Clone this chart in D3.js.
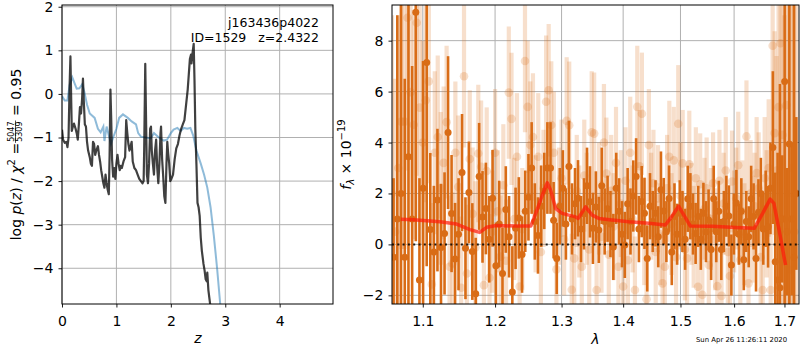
<!DOCTYPE html>
<html>
<head>
<meta charset="utf-8">
<script src="https://cdn.jsdelivr.net/npm/d3@7"></script>
<style>
  body { margin: 0; background: #fff; }
  svg { display: block; }
  text { font-family: 'DejaVu Sans', sans-serif; }
</style>
</head>
<body>
<div id="chart"></div>
<script>
// ── Data: left panel, log p(z) ─────────────────────────────────
const zBlack = [0.00,0.02,0.05,0.08,0.10,0.12,0.14,0.155,0.17,0.18,0.20,0.22,0.25,0.27,0.29,0.31,0.33,0.35,0.37,0.385,
  0.40,0.42,0.44,0.46,0.48,0.51,0.53,0.55,0.57,0.59,0.61,0.63,0.66,0.68,0.70,0.72,0.74,0.76,0.78,0.80,
  0.82,0.84,0.86,0.875,0.89,0.905,0.92,0.94,0.96,0.98,1.00,1.02,1.04,1.06,1.08,1.10,1.13,1.16,1.18,1.20,
  1.22,1.24,1.26,1.28,1.30,1.33,1.36,1.39,1.42,1.45,1.48,1.50,1.51,1.53,1.545,1.56,1.58,1.60,1.62,1.635,
  1.65,1.67,1.69,1.71,1.73,1.75,1.77,1.79,1.81,1.82,1.84,1.86,1.88,1.90,1.92,1.935,1.95,1.97,1.99,2.01,
  2.04,2.07,2.10,2.13,2.16,2.19,2.22,2.25,2.28,2.31,2.33,2.35,2.37,2.38,2.40,2.42,2.435,2.45,2.47,2.49,
  2.51,2.53,2.55,2.57,2.60,2.62,2.64,2.66,2.67,2.69,2.71,2.74];
const pBlack = [-0.82,-1.05,-1.12,-1.10,-1.22,-1.00,0.20,0.86,-0.20,-0.85,-0.75,-0.68,-0.80,-0.90,-1.05,-0.70,-0.30,-0.45,-0.10,0.35,
  -0.15,-0.70,-0.75,-1.10,-1.30,-1.45,-1.60,-1.65,-1.10,-1.15,-1.40,-1.30,-1.20,-1.40,-1.55,-1.75,-1.90,-2.05,-2.15,-1.85,
  -2.05,-2.20,-2.30,-1.40,0.10,-0.60,-1.50,-1.90,-1.70,-1.95,-1.60,-1.40,-1.60,-1.75,-1.65,-1.70,-1.55,-1.45,-0.60,-0.90,
  -1.15,-1.30,-1.20,-1.10,-1.55,-1.70,-1.75,-1.85,-1.95,-2.00,-2.05,-2.00,-1.30,0.69,-0.60,-1.85,-2.05,-1.60,-0.80,-0.75,
  -1.30,-1.60,-1.85,-1.30,-1.05,-1.70,-2.05,-1.60,-0.90,-0.75,-1.50,-1.90,-2.35,-2.50,-1.60,-1.10,-1.35,-1.60,-2.00,-1.95,
  -1.85,-1.50,-1.25,-1.15,-0.95,-0.80,-0.70,-0.60,-0.25,0.10,0.45,0.80,0.90,0.70,0.95,1.15,0.30,-0.80,-1.60,-2.50,
  -2.60,-2.80,-3.30,-3.60,-3.90,-4.05,-4.25,-4.30,-4.10,-4.50,-4.70,-5.00];

const zBlue = [0.00,0.05,0.10,0.14,0.19,0.23,0.27,0.32,0.37,0.41,0.46,0.51,0.60,0.66,0.71,0.76,0.78,0.82,0.87,0.90,
  0.94,1.00,1.05,1.12,1.21,1.28,1.36,1.40,1.45,1.54,1.63,1.69,1.78,1.87,1.93,2.00,2.05,2.12,2.18,2.24,
  2.30,2.36,2.41,2.47,2.55,2.61,2.67,2.73,2.79,2.85,2.92];
const pBlue = [-0.05,-0.15,-0.15,0.20,0.38,0.25,0.12,0.13,0.22,0.05,-0.25,-0.45,-0.55,-0.80,-0.88,-0.75,-1.08,-0.75,-1.00,-1.15,
  -1.00,-0.80,-0.55,-0.47,-0.55,-0.63,-0.70,-0.90,-0.98,-1.00,-1.02,-0.90,-1.00,-1.07,-1.05,-0.90,-0.82,-0.78,-0.85,-0.78,
  -0.80,-0.78,-0.95,-1.30,-1.60,-1.85,-2.15,-2.60,-3.25,-4.00,-5.00];

// ── Data: right panel, spectrum ───────────────────────────────
const darkLam0 = 1.062, darkStep = 0.0048;
const darkFlux = [-0.5,1.0,2.0,-0.5,3.44,1.0,9.12,-1.4,2.2,7.14,0.59,-0.3,1.74,-0.12,0.43,4.39,1.21,-0.57,0.4,2.82,
  -0.15,2.04,-0.28,-1.94,2.67,1.08,1.41,0.2,1.81,-0.84,0.8,-1.14,1.37,0.3,-1.87,0.63,1.04,-0.4,1.3,1.85,
  3.0,0.9,0.35,1.5,2.1,3.0,3.0,0.95,-0.55,1.5,2.2,0.8,3.06,1.0,1.6,1.81,0.6,1.2,2.3,1.67,
  0.63,1.47,0.57,2.3,0.9,1.4,0.8,-0.1,2.2,1.3,0.4,-0.02,1.6,0.9,1.9,2.67,0.6,1.68,1.22,-0.55,
  1.5,0.9,1.22,0.3,2.15,1.31,0.5,1.8,-0.3,1.1,0.4,1.22,0.9,0.2,1.79,1.5,0.8,0.43,1.1,0.2,
  1.22,0.5,0.96,-0.2,1.79,0.5,1.3,-0.2,0.9,1.5,1.12,-0.81,0.8,1.63,0.4,1.3,-0.6,0.9,0.3,1.79,
  1.1,-0.55,1.26,2.0,0.6,1.4,0.69,2.2,3.8,-0.68,-1.4,-1.7,1.0,6.4,0.5,3.94,1.0,-0.5,2.0];
const darkErr = [3.1,8,9,7,6,6,9,4,5,8,
  3.0,2.6,2.8,2.5,2.4,3.0,2.3,2.2,2.2,2.3,
  2.0,2.0,1.9,2.2,2.1,1.8,1.8,1.7,1.9,1.7,
  1.7,1.8,1.7,1.6,1.8,1.6,1.6,1.5,1.6,1.7,
  1.8,1.5,1.5,1.6,1.5,1.8,1.8,1.5,1.4,1.5,
  1.5,1.4,1.8,1.4,1.4,1.5,1.3,1.4,1.5,1.4,
  1.4,1.4,1.3,1.5,1.3,1.3,1.3,1.3,1.4,1.3,
  1.3,1.3,1.4,1.3,1.4,1.5,1.3,1.4,1.4,1.3,
  1.3,1.2,1.3,1.2,1.5,1.3,1.2,1.3,1.3,1.3,
  1.2,1.3,1.2,1.2,1.3,1.3,1.2,1.2,1.2,1.2,
  1.2,1.2,1.2,1.2,1.3,1.2,1.2,1.2,1.2,1.2,
  1.2,1.2,1.2,1.3,1.2,1.3,1.2,1.2,1.2,1.3,
  1.3,1.3,1.3,1.4,1.4,1.5,1.6,1.8,3.0,3.5,
  5,8,2.5,12,2.5,14,3,14,3];

const lightLam0 = 1.060, lightStep = 0.004;
const lightFlux = [2.0,0.5,3.0,4.82,4.82,8.9,5.98,4.7,8.7,5.37,4.0,5.66,6.4,-1.57,3.6,4.22,2.2,3.2,4.8,-0.88,
  -0.75,3.6,2.26,-1.7,6.6,-1.14,3.35,1.2,-0.12,3.57,3.05,-1.6,2.88,-1.31,0.5,3.6,1.3,-0.48,2.32,-0.64,
  5.96,4.93,1.0,3.44,-1.65,0.6,7.2,5.4,3.9,4.22,1.2,3.44,-0.3,2.2,5.6,6.05,4.69,3.6,-0.98,1.5,
  2.6,0.2,4.85,4.68,-1.78,-0.55,2.1,0.9,-0.88,2.7,1.4,-0.2,4.4,4.35,-1.79,1.8,0.3,4.0,2.78,-0.4,
  2.1,0.7,3.2,-0.88,1.6,-1.65,2.5,-0.62,3.6,1.0,-1.79,5.4,3.07,5.13,0.5,-2.15,3.9,1.5,2.4,-0.3,
  1.8,0.4,-1.53,-0.88,2.2,3.44,0.8,3.3,-0.5,4.74,1.9,3.18,-0.2,-0.55,3.15,1.2,0.3,2.6,-1.66,2.36,
  -1.98,1.4,2.2,-0.81,1.0,2.4,0.2,-1.64,2.5,-2.02,1.6,2.9,-0.3,-1.24,2.47,0.9,1.8,3.11,-0.6,1.3,
  0.4,4.24,-1.53,2.0,0.6,1.5,2.8,2.2,-0.5,-1.79,2.6,1.2,3.0,-1.79,7.8,4.37,2.9,5.39,7.9,4.3,
  1.0,5.47,2.0,-1.0,3.0,0.5,2.0];
const lightErr = [7,6,6,5,5,6,5,4.5,6,4.5,4,4,4,3.2,3.2,3.2,3,3,3,2.8,
  2.8,2.8,2.8,2.8,2.8,2.7,2.7,2.6,2.6,2.7,2.6,2.5,2.5,2.5,2.4,2.5,2.4,2.4,2.4,2.4,
  2.6,2.6,2.4,2.5,2.4,2.4,2.8,2.6,2.5,2.5,2.3,2.5,2.3,2.3,2.6,2.6,2.5,2.4,2.3,2.3,
  2.3,2.2,2.5,2.5,2.2,2.2,2.2,2.2,2.2,2.2,2.2,2.2,2.4,2.4,2.2,2.2,2.2,2.3,2.2,2.1,
  2.2,2.1,2.2,2.1,2.1,2.1,2.1,2.1,2.2,2.1,2.1,2.4,2.2,2.4,2.1,2.1,2.2,2.1,2.1,2.0,
  2.1,2.0,2.0,2.0,2.1,2.2,2.0,2.1,2.0,2.3,2.1,2.1,2.0,2.0,2.1,2.0,2.0,2.0,2.0,2.0,
  2.0,2.0,2.0,2.0,2.0,2.0,2.0,2.0,2.0,2.0,2.0,2.1,2.0,2.0,2.0,2.0,2.0,2.1,2.0,2.0,
  2.0,2.2,2.0,2.1,2.1,2.1,2.2,2.2,2.2,2.3,2.4,2.5,2.7,3,3.8,4,4.5,5,6,7,
  8,9,10,12,12,14,14];

const modelLam = [1.0713,1.0877,1.1231,1.1458,1.1643,1.178,1.1878,1.2018,1.2306,1.2527,1.2602,1.2702,1.2778,1.283,1.2907,
  1.301,1.3142,1.3221,1.3263,1.3381,1.3488,1.3596,1.3815,1.4095,1.4437,1.4729,1.4818,1.4967,1.5027,1.518,
  1.5582,1.6031,1.6393,1.656,1.671,1.6785,1.6903,1.7022];
const modelFlux = [0.99,0.97,0.89,0.80,0.58,0.47,0.67,0.74,0.72,0.72,1.22,1.93,2.42,2.13,1.41,
  1.22,1.13,1.08,1.02,1.47,1.15,1.02,0.96,0.89,0.83,0.76,1.02,1.50,1.28,0.72,
  0.71,0.66,0.63,1.22,1.78,1.61,0.43,-0.81];

const zTicks = [0, 1, 2, 3, 4];
const pTicks = [-4, -3, -2, -1, 0, 1, 2];
const lamTicks = [1.1, 1.2, 1.3, 1.4, 1.5, 1.6, 1.7];
const fTicks = [-2, 0, 2, 4, 6, 8];

// ── Setup ─────────────────────────────────────────────────────
const W = 800, H = 350;
const FS = 14;
const ORANGE = '#d96c16';
const svg = d3.select('#chart').append('svg').attr('width', W).attr('height', H);

const PL = { x0: 62, x1: 333, y0: 5, y1: 304 };
const PR = { x0: 392, x1: 799, y0: 5, y1: 304 };

const xz = d3.scaleLinear().domain([0, 4.98]).range([PL.x0, PL.x1]);
const yp = d3.scaleLinear().domain([-4.82, 2.04]).range([PL.y1, PL.y0]);
const xl = d3.scaleLog().domain([1.06, 1.73]).range([PR.x0, PR.x1]);
const yf = d3.scaleLinear().domain([-2.34, 9.40]).range([PR.y1, PR.y0]);

const defs = svg.append('defs');
[['clipL', PL], ['clipR', PR]].forEach(([id, p]) => {
  defs.append('clipPath').attr('id', id).append('rect')
    .attr('x', p.x0).attr('y', p.y0).attr('width', p.x1 - p.x0).attr('height', p.y1 - p.y0);
});

function grid(p, xs, ys, xt, yt) {
  const g = svg.append('g').attr('stroke', '#b0b0b0').attr('stroke-width', 1);
  xt.forEach(t => g.append('line').attr('x1', xs(t)).attr('x2', xs(t)).attr('y1', p.y0).attr('y2', p.y1));
  yt.forEach(t => g.append('line').attr('x1', p.x0).attr('x2', p.x1).attr('y1', ys(t)).attr('y2', ys(t)));
}

function axes(p, xs, ys, xt, yt, xfmt, yfmt) {
  const ax = svg.append('g').attr('transform', `translate(0,${p.y1})`)
    .call(d3.axisBottom(xs).tickValues(xt).tickFormat(xfmt).tickSize(3.5).tickPadding(8.5));
  const ay = svg.append('g').attr('transform', `translate(${p.x0},0)`)
    .call(d3.axisLeft(ys).tickValues(yt).tickFormat(yfmt).tickSize(3.5).tickPadding(5));
  [ax, ay].forEach(a => {
    a.select('.domain').remove();
    a.attr('font-family', null).attr('font-size', null);
    a.selectAll('text').attr('font-size', FS).attr('fill', '#000');
    a.selectAll('line').attr('stroke', '#000').attr('stroke-width', 0.9);
  });
  svg.append('rect').attr('x', p.x0).attr('y', p.y0).attr('width', p.x1 - p.x0).attr('height', p.y1 - p.y0)
    .attr('fill', 'none').attr('stroke', '#000').attr('stroke-width', 1);
}

const minus = f => v => f(v).replace('-', '\u2212');

// ── Left panel ────────────────────────────────────────────────
grid(PL, xz, yp, zTicks, pTicks);
const gl = svg.append('g').attr('clip-path', 'url(#clipL)');
const lineP = d3.line().x(d => xz(d[0])).y(d => yp(d[1]));
gl.append('path').datum(d3.zip(zBlue, pBlue)).attr('d', lineP)
  .attr('fill', 'none').attr('stroke', '#1f77b4').attr('stroke-opacity', 0.5).attr('stroke-width', 2);
gl.append('path').datum(d3.zip(zBlack, pBlack)).attr('d', lineP)
  .attr('fill', 'none').attr('stroke', '#000').attr('stroke-opacity', 0.75).attr('stroke-width', 2.2)
  .attr('stroke-linejoin', 'round');
axes(PL, xz, yp, zTicks, pTicks, d3.format('d'), minus(d3.format('d')));

svg.append('text').attr('x', 319).attr('y', 27).attr('text-anchor', 'end').attr('font-size', 12.5)
  .text('j163436p4022');
svg.append('text').attr('x', 319).attr('y', 41.5).attr('text-anchor', 'end').attr('font-size', 12.5)
  .style('white-space', 'pre').text('ID=1529   z=2.4322');

svg.append('text').attr('x', xz(2.5)).attr('y', 343).attr('text-anchor', 'middle').attr('font-size', FS)
  .attr('font-style', 'italic').text('z');

// y label with fraction
const yl = svg.append('g');
const t1 = yl.append('text').attr('font-size', FS);
t1.append('tspan').text('log ');
t1.append('tspan').attr('font-style', 'italic').text('p');
t1.append('tspan').text('(');
t1.append('tspan').attr('font-style', 'italic').text('z');
t1.append('tspan').text(') / ');
t1.append('tspan').attr('font-style', 'italic').text('\u03c7');
t1.append('tspan').attr('font-size', 10).attr('dy', -6).text('2');
t1.append('tspan').attr('dy', 6).text(' = ');
const w1 = t1.node().getComputedTextLength();
const num = yl.append('text').attr('font-size', 8).attr('text-anchor', 'middle').attr('y', -7).text('5047');
const den = yl.append('text').attr('font-size', 8).attr('text-anchor', 'middle').attr('y', 1).text('5309');
const fw = Math.max(num.node().getComputedTextLength(), den.node().getComputedTextLength()) + 2;
num.attr('x', w1 + fw / 2); den.attr('x', w1 + fw / 2);
yl.append('line').attr('x1', w1).attr('x2', w1 + fw).attr('y1', -5.5).attr('y2', -5.5)
  .attr('stroke', '#000').attr('stroke-width', 0.7);
const t3 = yl.append('text').attr('font-size', FS).attr('x', w1 + fw).style('white-space', 'pre').text(' = 0.95');
const wTot = w1 + fw + t3.node().getComputedTextLength();
yl.attr('transform', `translate(21,${(PL.y0 + PL.y1) / 2}) rotate(-90) translate(${-wTot / 2},0)`);

// ── Right panel ───────────────────────────────────────────────
grid(PR, xl, yf, lamTicks, fTicks);
const gr = svg.append('g').attr('clip-path', 'url(#clipR)');

const light = lightFlux.map((f, i) => ({ lam: lightLam0 + i * lightStep, f, e: lightErr[i] }));
const dark = darkFlux.map((f, i) => ({ lam: darkLam0 + i * darkStep, f, e: darkErr[i] }));

gr.append('g').selectAll('line').data(light).join('line')
  .attr('x1', d => xl(d.lam)).attr('x2', d => xl(d.lam))
  .attr('y1', d => yf(d.f - d.e)).attr('y2', d => yf(d.f + d.e))
  .attr('stroke', ORANGE).attr('stroke-opacity', 0.22).attr('stroke-width', 4.2);
gr.append('g').selectAll('circle').data(light).join('circle')
  .attr('cx', d => xl(d.lam)).attr('cy', d => yf(d.f)).attr('r', 4.3)
  .attr('fill', ORANGE).attr('fill-opacity', 0.22);

gr.append('g').selectAll('line').data(dark).join('line')
  .attr('x1', d => xl(d.lam)).attr('x2', d => xl(d.lam))
  .attr('y1', d => yf(d.f - d.e)).attr('y2', d => yf(d.f + d.e))
  .attr('stroke', ORANGE).attr('stroke-width', 2.6);
gr.append('g').selectAll('circle').data(dark).join('circle')
  .attr('cx', d => xl(d.lam)).attr('cy', d => yf(d.f)).attr('r', 3.5)
  .attr('fill', ORANGE);

gr.append('line').attr('x1', PR.x0).attr('x2', PR.x1).attr('y1', yf(0)).attr('y2', yf(0))
  .attr('stroke', '#000').attr('stroke-opacity', 0.85).attr('stroke-width', 2).attr('stroke-dasharray', '2,3.3');

gr.append('path').datum(d3.zip(modelLam, modelFlux))
  .attr('d', d3.line().x(d => xl(d[0])).y(d => yf(d[1])))
  .attr('fill', 'none').attr('stroke', '#ff1a0a').attr('stroke-opacity', 0.7).attr('stroke-width', 3.5)
  .attr('stroke-linejoin', 'round');

axes(PR, xl, yf, lamTicks, fTicks, d3.format('.1f'), minus(d3.format('d')));

svg.append('text').attr('x', (PR.x0 + PR.x1) / 2).attr('y', 344).attr('text-anchor', 'middle').attr('font-size', FS)
  .attr('font-style', 'italic').text('\u03bb');

const yr = svg.append('text').attr('font-size', FS)
  .attr('transform', `translate(351,${(PR.y0 + PR.y1) / 2}) rotate(-90)`).attr('text-anchor', 'middle');
yr.append('tspan').attr('font-style', 'italic').text('f');
yr.append('tspan').attr('font-size', 10).attr('font-style', 'italic').attr('dy', 3).text('\u03bb');
yr.append('tspan').attr('dy', -3).style('white-space', 'pre').text(' \u00d7 10');
yr.append('tspan').attr('font-size', 10).attr('dy', -6).text('\u221219');

svg.append('text').attr('x', 696).attr('y', 341.5).attr('font-size', 6.9).text('Sun Apr 26 11:26:11 2020');
</script>
</body>
</html>
